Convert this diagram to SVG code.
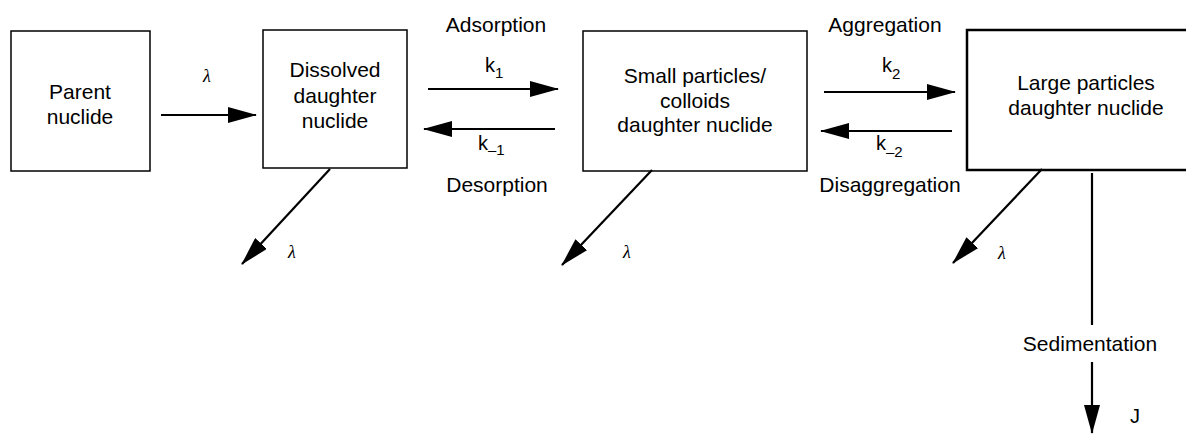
<svg xmlns="http://www.w3.org/2000/svg" width="1186" height="434" viewBox="0 0 1186 434">
<style>
.box{fill:#fff;stroke:#000;stroke-width:1.5}
.thick{stroke-width:2.5}
.t{font-family:"Liberation Sans",Arial,sans-serif;font-size:21px;fill:#000;text-anchor:middle}
.lab{font-family:"Liberation Sans",Arial,sans-serif;font-size:20px;fill:#000}
.sub{font-size:15px}
.lam{font-family:"Liberation Serif","Times New Roman",serif;font-style:italic;font-size:18px;fill:#000;text-anchor:middle}
.ln{stroke:#000;stroke-width:2.2;fill:none}
.arr{marker-end:url(#ah)}
</style>
<defs>
<marker id="ah" markerUnits="userSpaceOnUse" markerWidth="30" markerHeight="16" refX="28" refY="8" orient="auto">
<path d="M0,0 L29,8 L0,16 z" fill="#000"/>
</marker>
</defs>
<rect width="1186" height="434" fill="#fff"/>
<g id="parent">
<rect class="box" x="11" y="31" width="139" height="140"/>
<text class="t" x="80" y="99">Parent</text>
<text class="t" x="80" y="124">nuclide</text>
</g>
<g id="dissolved">
<rect class="box" x="263" y="30" width="144" height="138"/>
<text class="t" x="335" y="77">Dissolved</text>
<text class="t" x="335" y="103">daughter</text>
<text class="t" x="335" y="128">nuclide</text>
</g>
<g id="small">
<rect class="box" x="583" y="31" width="224" height="140"/>
<text class="t" x="695" y="83">Small particles/</text>
<text class="t" x="695" y="108">colloids</text>
<text class="t" x="695" y="132">daughter nuclide</text>
</g>
<g id="large">
<rect class="box thick" x="967" y="30" width="240" height="140"/>
<text class="t" x="1086" y="90">Large particles</text>
<text class="t" x="1086" y="115">daughter nuclide</text>
</g>
<g id="connectors">
<line class="ln arr" x1="161" y1="115" x2="256" y2="115"/>
<line class="ln arr" x1="428" y1="89" x2="558" y2="89"/>
<line class="ln arr" x1="555" y1="129" x2="424" y2="129"/>
<line class="ln arr" x1="824" y1="92" x2="955" y2="92"/>
<line class="ln arr" x1="952" y1="131" x2="821" y2="131"/>
<line class="ln arr" x1="330" y1="169" x2="242" y2="264"/>
<line class="ln arr" x1="652" y1="170" x2="562" y2="265"/>
<line class="ln arr" x1="1042" y1="169" x2="953" y2="263"/>
<line class="ln" x1="1092" y1="173" x2="1092" y2="325"/>
<line class="ln arr" x1="1092" y1="362" x2="1092" y2="433"/>
</g>
<g id="labels">
<text class="lam" x="207" y="82">λ</text>
<text class="lam" x="292" y="258">λ</text>
<text class="lam" x="627" y="258">λ</text>
<text class="lam" x="1002" y="259">λ</text>
<text class="t" x="496" y="32">Adsorption</text>
<text class="t" x="497" y="192">Desorption</text>
<text class="t" x="885" y="32">Aggregation</text>
<text class="t" x="890" y="192">Disaggregation</text>
<text class="t" x="1090" y="351">Sedimentation</text>
<text class="lab" x="1130" y="423">J</text>
<text class="lab" x="485" y="72">k<tspan class="sub" dy="6">1</tspan></text>
<text class="lab" x="478" y="150">k<tspan class="sub" dy="5">–1</tspan></text>
<text class="lab" x="882" y="72">k<tspan class="sub" dy="7">2</tspan></text>
<text class="lab" x="876" y="150">k<tspan class="sub" dy="7">–2</tspan></text>
</g>
</svg>
